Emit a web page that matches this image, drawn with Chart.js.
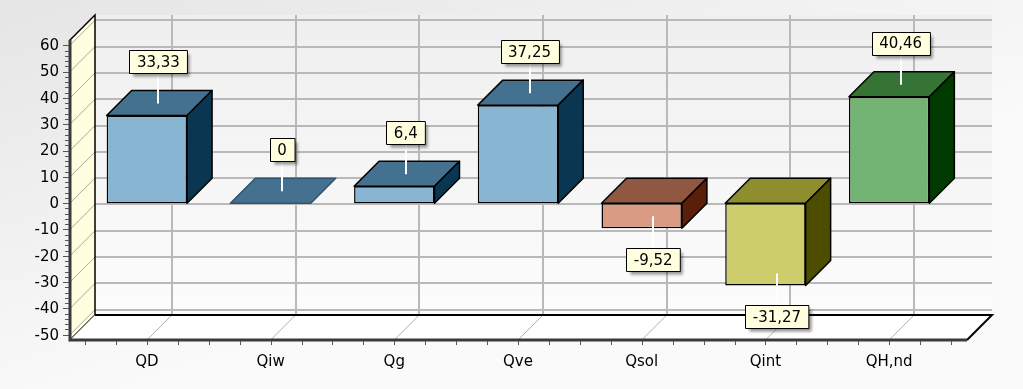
<!DOCTYPE html>
<html>
<head>
<meta charset="utf-8">
<script src="https://cdn.jsdelivr.net/npm/chart.js@4/dist/chart.umd.min.js"></script>
<style>
  html, body { margin: 0; padding: 0; background: #fff; }
  #wrap { width: 1023px; height: 389px; }
</style>
</head>
<body>
<div id="wrap"><canvas id="myChart" width="1023" height="389"></canvas></div>
<script>
// data
const labels = ['QD', 'Qiw', 'Qg', 'Qve', 'Qsol', 'Qint', 'QH,nd'];
const values = [33.33, 0, 6.4, 37.25, -9.52, -31.27, 40.46];
const yTicks = [60, 50, 40, 30, 20, 10, 0, -10, -20, -30, -40, -50];

// colours per bar: front, top, side
const frontColors = ['#88b5d1', '#88b5d1', '#88b5d1', '#88b5d1', '#d99b82', '#cdcd6b', '#73b373'];
const topColors   = ['#44718f', '#44718f', '#44718f', '#44718f', '#905840', '#8e8e2e', '#357435'];
const sideColors  = ['#0b3651', '#0b3651', '#0b3651', '#0b3651', '#5a1f0a', '#4d4d00', '#003a00'];

const D = 25;          // depth offset of the 3d look
const FONT = '15px "DejaVu Sans", sans-serif';

const fmt = v => String(v).replace('.', ',');

const bg3d = {
  id: 'bg3d',
  beforeDraw(chart) {
    const ctx = chart.ctx;
    const g = ctx.createLinearGradient(0, 0, 120, 389);
    g.addColorStop(0, '#e5e5e5');
    g.addColorStop(1, '#fafafa');
    ctx.save();
    ctx.fillStyle = g;
    ctx.fillRect(0, 0, chart.width, chart.height);
    ctx.restore();
  },
  beforeDatasetsDraw(chart) {
    const ctx = chart.ctx;
    const a = chart.chartArea;
    const xs = chart.scales.x, ys = chart.scales.y;
    const fl = a.left - 15, fr = a.right + 16;   // front floor ends
    const top = ys.getPixelForValue(ys.max), bot = ys.getPixelForValue(ys.min);
    ctx.save();

    // back wall
    const wg = ctx.createLinearGradient(0, top - D, 0, bot - D);
    wg.addColorStop(0, '#efefef');
    wg.addColorStop(1, '#fcfcfc');
    ctx.fillStyle = wg;
    ctx.fillRect(fl + D, top - D, fr - fl, bot - top);

    // back horizontal grid
    ctx.strokeStyle = '#b9b9b9';
    ctx.lineWidth = 2;
    yTicks.forEach(v => {
      const y = Math.round(ys.getPixelForValue(v) - D);
      ctx.beginPath(); ctx.moveTo(fl + D, y); ctx.lineTo(fr + D, y); ctx.stroke();
    });
    // back vertical grid
    labels.forEach((l, i) => {
      const x = Math.round(xs.getPixelForValue(i) + D);
      ctx.beginPath(); ctx.moveTo(x, top - D); ctx.lineTo(x, bot - D); ctx.stroke();
    });

    // left side wall
    ctx.beginPath();
    ctx.moveTo(fl, top); ctx.lineTo(fl + D, top - D);
    ctx.lineTo(fl + D, bot - D); ctx.lineTo(fl, bot); ctx.closePath();
    ctx.fillStyle = '#ffffe0';
    ctx.fill();
    ctx.strokeStyle = '#a8a8a8';
    ctx.lineWidth = 1;
    yTicks.forEach(v => {
      const y = ys.getPixelForValue(v);
      ctx.beginPath(); ctx.moveTo(fl, y); ctx.lineTo(fl + D, y - D); ctx.stroke();
    });
    ctx.beginPath();
    ctx.moveTo(fl, top); ctx.lineTo(fl + D, top - D);
    ctx.lineTo(fl + D, bot - D); ctx.lineTo(fl, bot); ctx.closePath();
    ctx.strokeStyle = '#000';
    ctx.lineWidth = 1.5;
    ctx.stroke();

    // floor
    ctx.beginPath();
    ctx.moveTo(fl, bot); ctx.lineTo(fr, bot);
    ctx.lineTo(fr + D, bot - D); ctx.lineTo(fl + D, bot - D); ctx.closePath();
    ctx.fillStyle = '#ffffff';
    ctx.fill();
    ctx.strokeStyle = '#b0b0b0';
    ctx.lineWidth = 1;
    labels.forEach((l, i) => {
      const x = xs.getPixelForValue(i);
      ctx.beginPath(); ctx.moveTo(x, bot); ctx.lineTo(x + D, bot - D); ctx.stroke();
    });
    ctx.strokeStyle = '#000';
    ctx.lineWidth = 2;
    ctx.beginPath(); ctx.moveTo(fl + D, bot - D); ctx.lineTo(fr + D, bot - D); ctx.lineTo(fr, bot); ctx.stroke();

    // front axes
    ctx.strokeStyle = '#3a3a3a';
    ctx.lineWidth = 3;
    ctx.beginPath(); ctx.moveTo(fl, top); ctx.lineTo(fl, bot); ctx.lineTo(fr, bot); ctx.stroke();

    // y ticks (major + minor)
    ctx.strokeStyle = '#555';
    ctx.lineWidth = 1;
    for (let v = -50; v <= 60; v += 2) {
      const y = Math.round(ys.getPixelForValue(v)) + 0.5;
      const len = v % 10 === 0 ? 6 : 4;
      ctx.beginPath(); ctx.moveTo(fl - 1, y); ctx.lineTo(fl - 1 - len, y); ctx.stroke();
    }
    // x ticks at quarters of a category
    const step = (a.right - a.left) / labels.length / 4;
    for (let k = 0; k <= labels.length * 4; k++) {
      const x = Math.round(a.left + k * step) + 0.5;
      ctx.beginPath(); ctx.moveTo(x, bot + 1); ctx.lineTo(x, bot + 5); ctx.stroke();
    }

    // tick labels
    ctx.fillStyle = '#000';
    ctx.font = FONT;
    ctx.textAlign = 'right';
    ctx.textBaseline = 'middle';
    yTicks.forEach(v => ctx.fillText(String(v), fl - 11, ys.getPixelForValue(v) + 1));
    ctx.textAlign = 'center';
    labels.forEach((l, i) => ctx.fillText(l, xs.getPixelForValue(i), bot + 22));

    ctx.restore();
  },
  afterDatasetsDraw(chart) {
    const ctx = chart.ctx;
    const meta = chart.getDatasetMeta(0);
    ctx.save();
    ctx.lineJoin = 'round';
    meta.data.forEach((bar, i) => {
      const left = bar.x - bar.width / 2, right = bar.x + bar.width / 2;
      const t = Math.min(bar.y, bar.base), b = Math.max(bar.y, bar.base);
      // top face
      ctx.beginPath();
      ctx.moveTo(left, t); ctx.lineTo(right, t);
      ctx.lineTo(right + D, t - D); ctx.lineTo(left + D, t - D); ctx.closePath();
      ctx.fillStyle = topColors[i];
      ctx.fill();
      ctx.strokeStyle = values[i] === 0 ? '#2f5670' : '#000';
      ctx.lineWidth = 1.5;
      ctx.stroke();
      // side face
      if (b - t > 0.5) {
        ctx.beginPath();
        ctx.moveTo(right, t); ctx.lineTo(right + D, t - D);
        ctx.lineTo(right + D, b - D); ctx.lineTo(right, b); ctx.closePath();
        ctx.fillStyle = sideColors[i];
        ctx.fill();
        ctx.strokeStyle = '#000';
        ctx.stroke();
      }
    });

    // value labels
    ctx.font = FONT;
    meta.data.forEach((bar, i) => {
      const v = values[i];
      const ax = bar.x + 11.5, ay = bar.y - 12;
      const txt = fmt(v);
      const w = ctx.measureText(txt).width + 15, h = 23;
      let by, ly1, ly2;
      if (v >= 0) { by = ay - 30 - h; ly1 = ay; ly2 = ay - 30; }
      else { by = ay + 32; ly1 = ay; ly2 = ay + 32; }
      ctx.strokeStyle = '#fff';
      ctx.lineWidth = 2;
      ctx.beginPath(); ctx.moveTo(Math.round(ax), ly1); ctx.lineTo(Math.round(ax), ly2); ctx.stroke();
      const bx = Math.round(ax - w / 2) + 0.5, byr = Math.round(by) + 0.5;
      ctx.save();
      ctx.shadowColor = 'rgba(0,0,0,0.45)';
      ctx.shadowOffsetX = 3;
      ctx.shadowOffsetY = 3;
      ctx.shadowBlur = 3;
      ctx.fillStyle = '#ffffe0';
      ctx.fillRect(bx, byr, w, h);
      ctx.restore();
      ctx.strokeStyle = '#000';
      ctx.lineWidth = 1;
      ctx.strokeRect(bx, byr, w, h);
      ctx.fillStyle = '#000';
      ctx.textAlign = 'center';
      ctx.textBaseline = 'middle';
      ctx.fillText(txt, ax, by + h / 2 + 1);
    });
    ctx.restore();
  }
};

const ctx = document.getElementById('myChart').getContext('2d');
const myChart = new Chart(ctx, {
  type: 'bar',
  data: {
    labels: labels,
    datasets: [{
      data: values,
      backgroundColor: frontColors,
      borderColor: '#000',
      borderWidth: 1.5,
      borderSkipped: false,
      barPercentage: 0.65,
      categoryPercentage: 1.0
    }]
  },
  options: {
    responsive: false,
    animation: false,
    devicePixelRatio: 1,
    layout: { padding: { left: 85, right: 72, top: 40, bottom: 49 } },
    plugins: { legend: { display: false }, tooltip: { enabled: false } },
    scales: {
      x: { display: false, offset: true },
      y: { display: false, min: -52, max: 62 }
    }
  },
  plugins: [bg3d]
});
</script>
</body>
</html>
